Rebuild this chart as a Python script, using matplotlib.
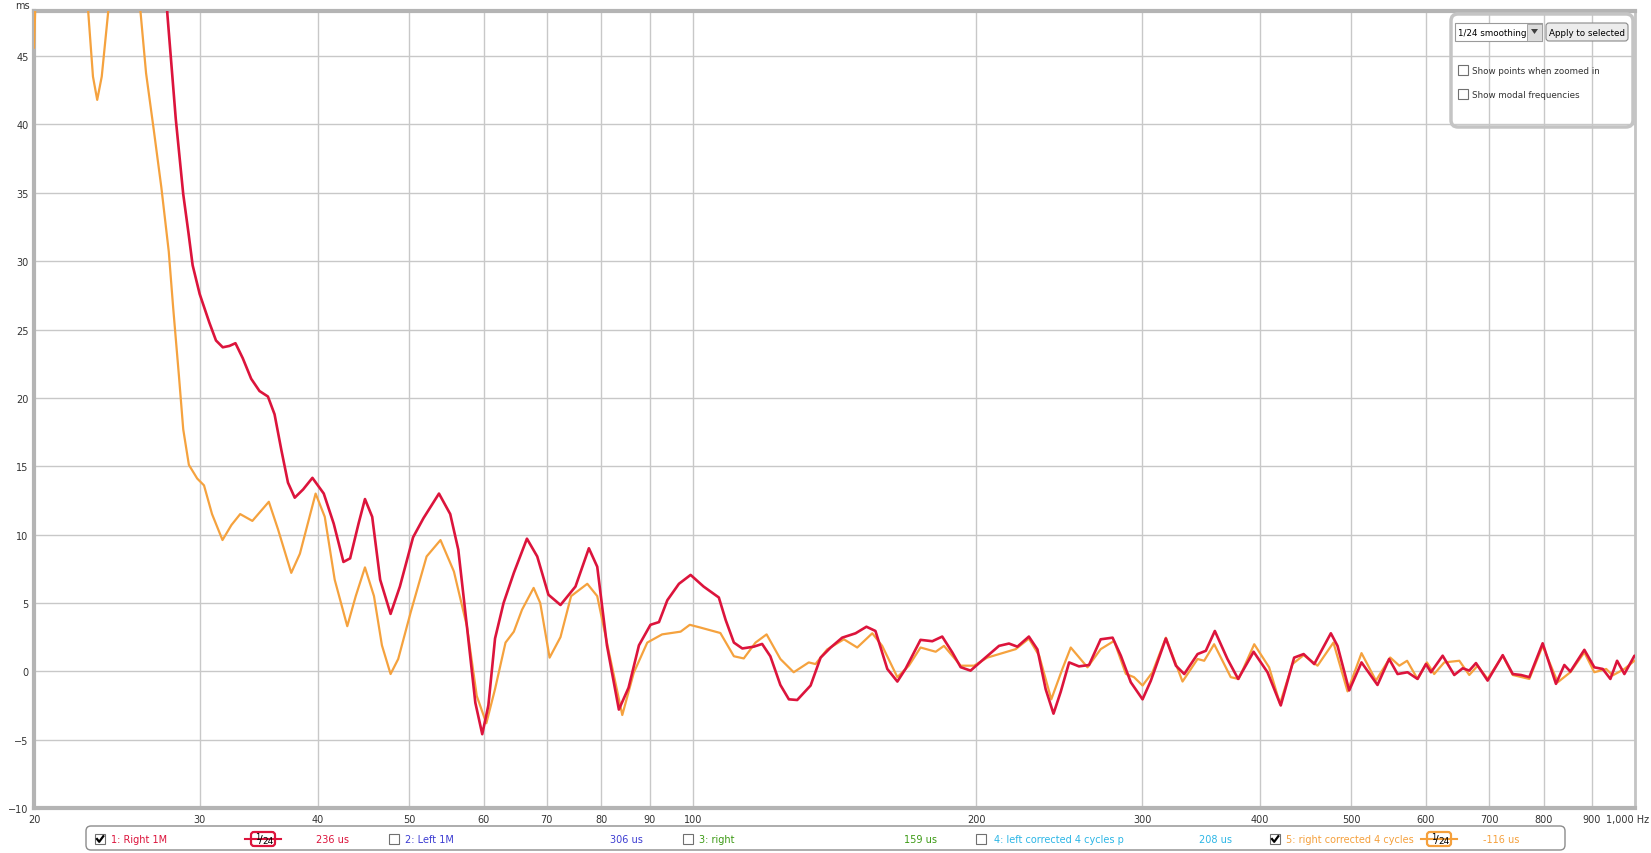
import numpy as np
import matplotlib
matplotlib.use("Agg")
from matplotlib import pyplot as plt
from matplotlib.patches import FancyBboxPatch, Rectangle, Polygon

# group delay readings (Hz, ms)
red_f = [27.3, 27.71, 28.28, 28.80, 29.18, 29.47, 29.98, 30.70, 31.20, 31.72, 32.24, 32.72, 33.31,
         34.0, 34.70, 35.42, 36.0, 36.60, 37.20, 37.82, 38.60, 39.49, 40.6, 41.6, 42.6, 43.3, 44.2,
         44.9, 45.7, 46.6, 47.8, 48.9, 50.5, 51.8, 53.8, 55.3, 56.4, 57.6, 58.8, 59.8, 60.7, 61.7,
         63.0, 64.6, 66.7, 68.4, 70.3, 72.4, 75.1, 77.6, 79.2, 81.1, 83.5, 85.5, 87.7, 90.2, 92.1,
         94.0, 96.7, 99.5, 102.7, 106.6, 108.4, 110.6, 112.9, 116.1, 118.5, 120.9, 123.9, 126.5,
         129.1, 133.4, 136.7, 140.1, 144.1, 148.9, 152.9, 156.3, 160.9, 164.9, 168.2, 174.5, 179.6,
         184.0, 188.6, 192.5, 197.2, 203.7, 211.4, 216.6, 221.1, 227.4, 232.2, 236.9, 241.5, 245.8,
         250.9, 257.0, 263.4, 271.0, 279.0, 284.7, 291.7, 300.2, 306.3, 317.8, 325.7, 332.4, 343.4,
         350.4, 358.2, 369.4, 379.2, 393.8, 407.4, 420.8, 434.8, 445.0, 456.7, 475.6, 483.4, 497.4,
         512.6, 533.0, 548.4, 559.8, 573.6, 587.8, 600.0, 607.4, 625.0, 643.0, 656.4, 667.0, 678.0,
         697.6, 723.8, 741.8, 756.8, 772.4, 798.0, 824.4, 841.4, 853.8, 883.6, 905.4, 924.2, 941.6,
         957.2, 974.4, 998.6]
red_ms = [55.0, 48.0, 40.4, 34.9, 32.0, 29.7, 27.6, 25.5, 24.2, 23.7, 23.8, 24.0, 22.9,
          21.4, 20.5, 20.1, 18.8, 16.2, 13.8, 12.7, 13.3, 14.15, 13.0, 10.8, 8.0, 8.26, 10.8,
          12.6, 11.3, 6.7, 4.2, 6.2, 9.8, 11.2, 13.0, 11.5, 8.9, 3.3, -2.3, -4.6, -2.5, 2.4,
          5.0, 7.2, 9.7, 8.4, 5.6, 4.85, 6.2, 9.0, 7.65, 1.9, -2.8, -1.2, 1.9, 3.4, 3.6,
          5.2, 6.4, 7.05, 6.2, 5.4, 3.75, 2.1, 1.67, 1.8, 2.0, 1.1, -1.0, -2.05,
          -2.1, -1.04, 1.0, 1.74, 2.46, 2.78, 3.26, 2.95, 0.17, -0.75, 0.17, 2.3, 2.2,
          2.54, 1.38, 0.3, 0.05, 0.9, 1.86, 2.03, 1.8, 2.54, 1.6, -1.3, -3.1, -1.5,
          0.65, 0.36, 0.46, 2.34, 2.46, 1.14, -0.8, -2.05, -0.7, 2.4, 0.41, -0.2, 1.26,
          1.5, 2.95, 0.9, -0.56, 1.43, -0.07, -2.5, 1.0, 1.26, 0.53, 2.78, 1.86, -1.4,
          0.65, -1.0, 0.9, -0.2, -0.07, -0.56, 0.53, -0.07, 1.14, -0.27, 0.22, 0.05, 0.6,
          -0.68, 1.18, -0.2, -0.27, -0.43, 2.05, -0.92, 0.46, -0.02, 1.57, 0.29, 0.17, -0.56,
          0.77, -0.2, 1.14]

orange_f = [20.0, 20.2, 22.6, 22.83, 23.1, 23.34, 23.6, 23.98, 24.2, 25.0, 25.94, 26.3, 26.8,
            27.3, 27.8, 28.1, 28.5, 28.8, 29.2, 29.8, 30.3, 30.9, 31.7, 32.4, 33.1, 34.1, 35.5,
            36.3, 37.5, 38.3, 39.8, 40.7, 41.7, 43.0, 43.9, 44.9, 45.9, 46.8, 47.8, 48.7, 50.2,
            52.2, 54.0, 55.8, 57.6, 59.0, 60.4, 61.7, 63.3, 64.6, 65.9, 67.8, 68.9, 70.5, 72.4,
            74.3, 77.3, 79.2, 81.5, 84.2, 86.6, 89.5, 92.8, 97.1, 99.3, 101.9, 107.0, 110.6,
            113.3, 116.6, 119.8, 123.9, 128.0, 132.8, 135.0, 138.9, 144.7, 149.5, 155.1, 158.9,
            164.9, 169.6, 174.5, 181.1, 184.8, 192.5, 198.9, 205.4, 213.2, 220.2, 227.4, 233.2,
            240.2, 246.8, 251.9, 262.4, 271.0, 280.0, 288.2, 294.0, 300.2, 307.6, 317.8, 331.0,
            343.4, 349.0, 357.6, 372.4, 379.7, 394.4, 409.0, 420.0, 433.0, 445.0, 460.4, 478.6,
            495.4, 512.6, 531.0, 549.8, 562.2, 573.0, 587.8, 601.4, 612.2, 627.4, 651.0, 667.0,
            680.8, 697.6, 723.8, 741.8, 772.4, 798.0, 828.0, 853.8, 883.6, 905.4, 932.0, 947.0,
            974.4, 998.6]
orange_ms = [45.6, 55.0, 55.0, 48.3, 43.5, 41.8, 43.5, 48.3, 55.0, 60.0, 48.3, 43.75, 39.6,
             35.4, 30.7, 26.6, 21.6, 17.7, 15.1, 14.1, 13.6, 11.5, 9.6, 10.7, 11.5, 11.0, 12.4,
             10.4, 7.2, 8.6, 13.0, 11.3, 6.7, 3.3, 5.5, 7.6, 5.5, 1.9, -0.2, 0.9, 4.3,
             8.4, 9.6, 7.3, 3.3, -1.8, -3.8, -1.3, 2.1, 2.9, 4.5, 6.1, 5.0, 1.0, 2.5,
             5.5, 6.4, 5.5, 1.4, -3.2, -0.1, 2.1, 2.7, 2.9, 3.4, 3.2, 2.8, 1.1,
             0.94, 2.1, 2.7, 0.9, -0.07, 0.65, 0.53, 1.6, 2.34, 1.74, 2.78, 1.86,
             -0.43, 0.41, 1.74, 1.43, 1.86, 0.41, 0.41, 1.0, 1.33, 1.62, 2.39, 1.14,
             -2.05, 0.17, 1.74, 0.29, 1.62, 2.22, -0.19, -0.43, -1.04, -0.07, 2.46, -0.75,
             0.9, 0.77, 1.98, -0.43, -0.56, 1.98, 0.29, -2.37, 0.53, 1.18, 0.41, 2.1,
             -1.47, 1.33, -0.68, 1.01, 0.41, 0.77, -0.56, 0.65, -0.2, 0.65, 0.77, -0.27,
             0.41, -0.56, 1.14, -0.27, -0.56, 1.86, -0.8, -0.07, 1.38, -0.07, 0.17, -0.3,
             0.17, 0.77]

x_ticks = [20, 30, 40, 50, 60, 70, 80, 90, 100, 200, 300, 400, 500, 600, 700, 800, 900, 1000]
x_labels = ["20", "30", "40", "50", "60", "70", "80", "90", "100", "200", "300", "400",
            "500", "600", "700", "800", "900", ""]
y_ticks = [-10, -5, 0, 5, 10, 15, 20, 25, 30, 35, 40, 45]

legend_items = [
    # checkbox x, checked, name, name x, smoothing box x, delay text, delay x, colour
    (95, True, "1: Right 1M", 111, 251, "236 us", 316, "#dc143c"),
    (389, False, "2: Left 1M", 405, None, "306 us", 610, "#3c3cd2"),
    (683, False, "3: right", 699, None, "159 us", 904, "#3c9a14"),
    (976, False, "4: left corrected 4 cycles p", 994, None, "208 us", 1199, "#2cb6e6"),
    (1270, True, "5: right corrected 4 cycles", 1286, 1427, "-116 us", 1483, "#f5a03c"),
]

RED = "#dc143c"
ORANGE = "#f5a23e"
W, H = 1651, 854

fig = plt.figure(figsize=(W / 100, H / 100), dpi=100)
plt.rcParams['font.family'] = ['DejaVu Sans']

ax = fig.add_axes([34 / W, 1 - 809 / H, (1635 - 34) / W, (809 - 12) / H])
ax.set_xscale('log')
ax.set_xlim(20, 1000)
ax.set_ylim(-10, 48.3)
ax.plot(orange_f, orange_ms, color=ORANGE, lw=1.6, zorder=3,
        solid_joinstyle='round', solid_capstyle='round')
ax.plot(red_f, red_ms, color=RED, lw=1.9, zorder=4,
        solid_joinstyle='round', solid_capstyle='round')

ax.set_xticks(x_ticks)
ax.set_xticklabels(x_labels)
ax.xaxis.set_minor_locator(matplotlib.ticker.NullLocator())
ax.set_yticks(y_ticks)
ax.grid(True, color="#c8c8c8", lw=1)
ax.set_axisbelow(True)
ax.tick_params(length=0, labelsize=7, colors="#333333", pad=4)
for side in ['left', 'top', 'bottom']:
    ax.spines[side].set_color("#b4b4b4")
    ax.spines[side].set_linewidth(3)
ax.spines['right'].set_color("#c4c4c4")
ax.spines['right'].set_linewidth(2)

# overlay in pixel coordinates for the widgets
ov = fig.add_axes([0, 0, 1, 1], zorder=10)
ov.set_xlim(0, W)
ov.set_ylim(H, 0)
ov.axis('off')
ov.patch.set_alpha(0)

ov.text(22, 6, "ms", fontsize=7, color="#333333", ha='center', va='center')
ov.text(1649, 820, "1,000 Hz", fontsize=7, color="#333333", ha='right', va='center')


def checkbox(x, y, checked):
    ov.add_patch(Rectangle((x, y), 10, 10, fc='white', ec="#707070", lw=0.8))
    if checked:
        ov.plot([x + 2, x + 4.2, x + 8.3], [y + 5, y + 7.8, y + 2.2], color='black', lw=1.6)


def smoothing_box(x, y, colour):
    ov.plot([x - 6, x + 30], [y, y], color=colour, lw=1.5)
    ov.add_patch(FancyBboxPatch((x, y - 7), 24, 14, boxstyle="round,pad=0,rounding_size=3",
                                fc='white', ec=colour, lw=1.6))
    ov.text(x + 6.5, y - 2, "1", fontsize=6, ha='center', va='center', color='black')
    ov.text(x + 10, y, "/", fontsize=8, ha='center', va='center', color='black')
    ov.text(x + 16.5, y + 2, "24", fontsize=6.5, ha='center', va='center', color='black')


# bottom legend bar
ov.add_patch(FancyBboxPatch((86, 827), 1565 - 86, 24, boxstyle="round,pad=0,rounding_size=5",
                            fc='white', ec="#8c8c8c", lw=1))
for cx, checked, name, nx, sx, delay, dx, colour in legend_items:
    checkbox(cx, 835, checked)
    ov.text(nx, 840, name, fontsize=7, color=colour, va='center', ha='left')
    if sx is not None:
        smoothing_box(sx, 840, colour)
    ov.text(dx, 840, delay, fontsize=7, color=colour, va='center', ha='left')

# top right control panel
ov.add_patch(FancyBboxPatch((1451, 15), 182, 113, boxstyle="round,pad=0,rounding_size=7",
                            fc='none', ec="#c4c4c4", lw=2.5))
ov.add_patch(Rectangle((1455, 24), 87, 18, fc='white', ec="#9a9a9a", lw=0.8))
ov.add_patch(Rectangle((1527, 24.5), 15, 17, fc="#dcdcdc", ec="#9a9a9a", lw=0.6))
ov.add_patch(Polygon([[1531, 30], [1538, 30], [1534.5, 35]], closed=True, fc="#404040", ec='none'))
ov.text(1458, 33, "1/24 smoothing", fontsize=6.3, color='black', va='center', ha='left')
ov.add_patch(FancyBboxPatch((1546, 24), 82, 18, boxstyle="round,pad=0,rounding_size=3",
                            fc="#ececec", ec="#8a8a8a", lw=0.8))
ov.text(1587, 33, "Apply to selected", fontsize=6.3, color='black', va='center', ha='center')
checkbox(1458, 66, False)
ov.text(1472, 71, "Show points when zoomed in", fontsize=6.3, color="#333333", va='center')
checkbox(1458, 90, False)
ov.text(1472, 95, "Show modal frequencies", fontsize=6.3, color="#333333", va='center')

fig.savefig("out.png", dpi=100)
